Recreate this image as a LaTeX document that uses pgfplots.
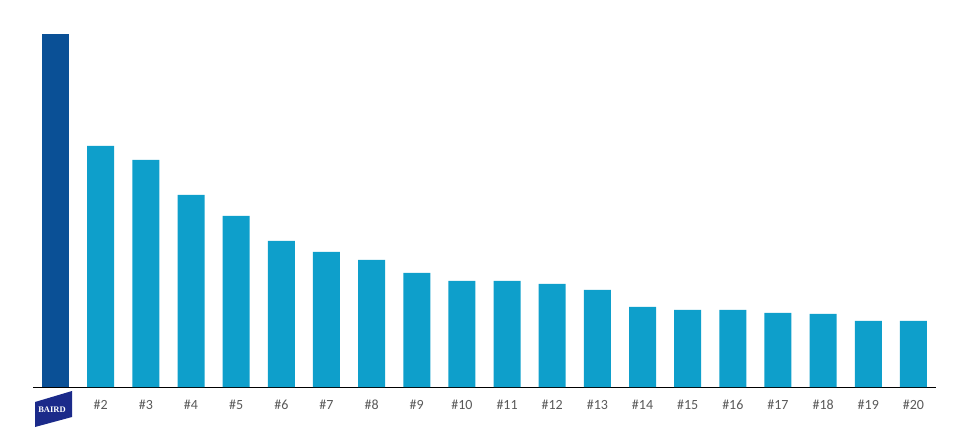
\documentclass[border=0pt]{standalone}
\usepackage{fontspec}
\setmainfont{Carlito}
\newfontfamily\logofont{Liberation Serif}
\usepackage{pgfplots}
\pgfplotsset{compat=1.18}

\definecolor{bairdblue}{HTML}{0A5096}
\definecolor{peerblue}{HTML}{0E9FCB}
\definecolor{logonavy}{HTML}{1B2A8A}
\definecolor{ticktext}{HTML}{595959}

\begin{document}
\begin{tikzpicture}[x=1pt,y=1pt]
  \path[use as bounding box] (0,0) rectangle (960,436);
  \begin{axis}[
      at={(33pt,49pt)},
      anchor=south west,
      scale only axis,
      width=903pt,
      height=387pt,
      xmin=0.5, xmax=20.5,
      ymin=0, ymax=387,
      axis x line=bottom,
      axis y line=none,
      axis line style={black, line width=0.9pt, -},
      xtick={1,...,20},
      xticklabels={,\#2,\#3,\#4,\#5,\#6,\#7,\#8,\#9,\#10,\#11,\#12,\#13,\#14,\#15,\#16,\#17,\#18,\#19,\#20},
      xticklabel style={font=\fontsize{14}{16}\selectfont, text=ticktext,
        text height=10pt, text depth=2pt, yshift=-9pt},
      major tick length=0pt,
      ybar,
      bar width=27pt,
      bar shift=0pt,
    ]
    \addplot[draw=none, fill=bairdblue] coordinates {(1,353)};
    \addplot[draw=none, fill=peerblue] coordinates {
      (2,241) (3,227) (4,192) (5,171) (6,146) (7,135) (8,127) (9,114) (10,106)
      (11,106) (12,103) (13,97) (14,80) (15,77) (16,77) (17,74) (18,73) (19,66) (20,66)
    };
  \end{axis}
  % BAIRD logo under the first bar
  \fill[logonavy] (35,9) -- (72,19) -- (72,45) -- (35,34) -- cycle;
  \node[text=white, font=\logofont\bfseries\fontsize{8.5}{9}\selectfont, inner sep=0pt] at (52,26) {BAIRD};
\end{tikzpicture}
\end{document}
